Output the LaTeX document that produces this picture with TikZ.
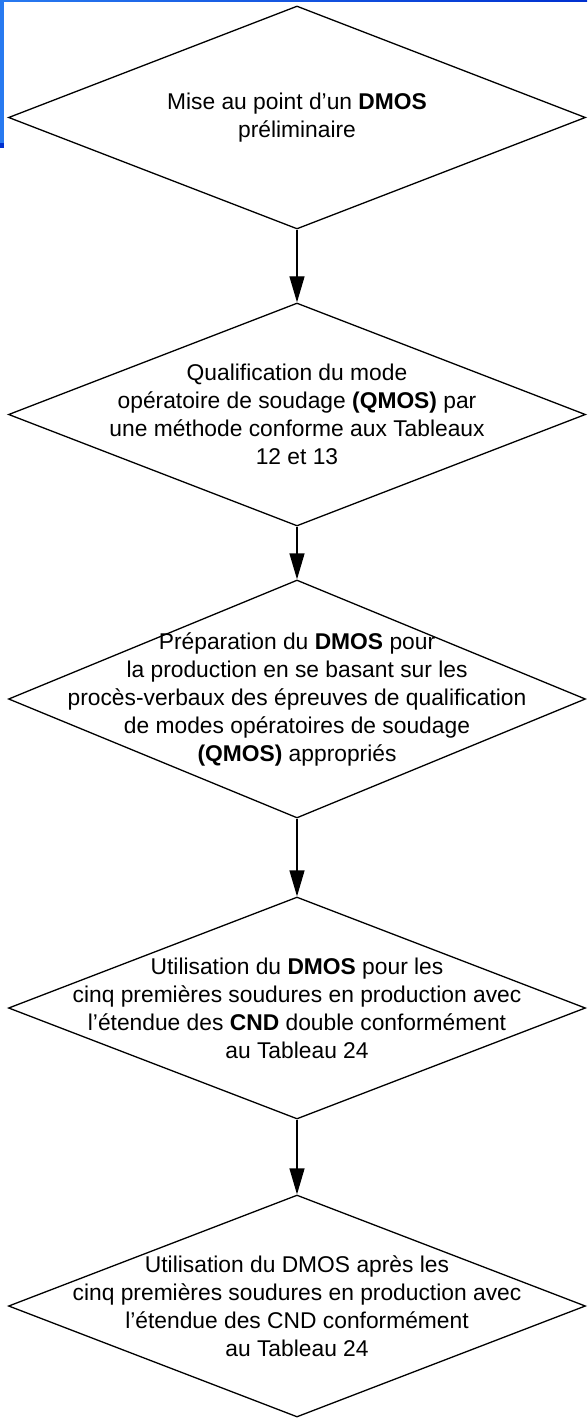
\documentclass[tikz,border=0pt]{standalone}
\usepackage{fontspec}
\setmainfont{Liberation Sans}
\usetikzlibrary{shapes.geometric,arrows.meta}
\definecolor{bleuclair}{RGB}{40,122,240}
\definecolor{bleufonce}{RGB}{0,48,208}

\begin{document}
\begin{tikzpicture}[x=1pt,y=-1pt,
  losange/.style={draw,diamond,line width=1.3pt,inner sep=0pt,minimum width=577pt},
  texte/.style={align=center,font=\fontsize{22.8}{28}\selectfont},
  fleche/.style={line width=1.3pt,-{Triangle[length=26pt,width=15pt]}}]
\useasboundingbox (0,0) rectangle (587,1420);
% cadre bleu en haut a gauche
\shade[left color=bleuclair,right color=bleufonce] (0,0) rectangle (587,1.5);
\fill[bleuclair] (0,0) rectangle (3.5,143);
\fill[bleufonce] (0,143) rectangle (3.5,148);
% les etapes
\node [losange,minimum height=223pt] (dmos) at (297,117.5) {};
\node [texte] at (dmos) {Mise au point d’un \textbf{DMOS}\\ préliminaire};
\node [losange,minimum height=223pt] (qmos) at (297,414.5) {};
\node [texte] at (qmos) {Qualification du mode\\ opératoire de soudage \textbf{(QMOS)} par\\ une méthode conforme aux Tableaux\\ 12 et 13};
\node [losange,minimum height=238pt] (prep) at (297,699) {};
\node [texte] at (prep) {Préparation du \textbf{DMOS} pour\\ la production en se basant sur les\\ procès-verbaux des épreuves de qualification\\ de modes opératoires de soudage\\ \textbf{(QMOS)} appropriés};
\node [losange,minimum height=222pt] (cinq) at (297,1008) {};
\node [texte] at (cinq) {Utilisation du \textbf{DMOS} pour les\\ cinq premières soudures en production avec\\ l'étendue des \textbf{CND} double conformément\\ au Tableau 24};
\node [losange,minimum height=222pt] (apres) at (297,1306) {};
\node [texte] at (apres) {Utilisation du DMOS après les\\ cinq premières soudures en production avec\\ l’étendue des CND conformément\\ au Tableau 24};
% fleches
\draw [fleche] (dmos.south) -- (qmos.north);
\draw [fleche] (qmos.south) -- (prep.north);
\draw [fleche] (prep.south) -- (cinq.north);
\draw [fleche] (cinq.south) -- (apres.north);
\end{tikzpicture}
\end{document}
